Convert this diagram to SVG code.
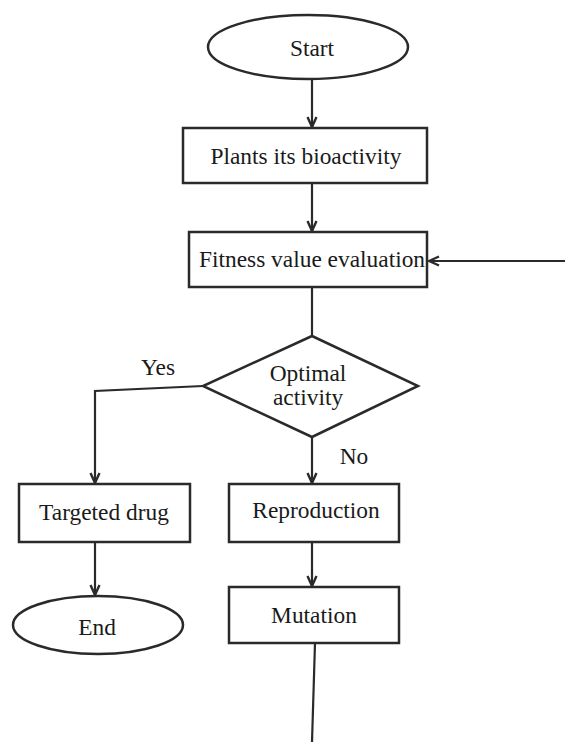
<svg xmlns="http://www.w3.org/2000/svg" width="565" height="742" viewBox="0 0 565 742">
<style>
.shape{fill:#fff;stroke:#2a2a2a;stroke-width:2.5}
.t{font-family:"Liberation Serif","Times New Roman",serif;font-size:23.4px;fill:#1a1a1a;text-anchor:middle}
.c{fill:none;stroke:#2a2a2a;stroke-width:2.2}
</style>
<defs>
<marker id="ah" viewBox="0 0 12 12" refX="11" refY="6" markerWidth="12" markerHeight="12" markerUnits="userSpaceOnUse" orient="auto">
<path d="M1,1.5 L11,6 L1,10.5" fill="none" stroke="#2a2a2a" stroke-width="2.4"/>
</marker>
</defs>
<rect width="565" height="742" fill="#fff"/>
<g id="connectors">
<line class="c" x1="312" y1="80" x2="312" y2="127" marker-end="url(#ah)"/>
<line class="c" x1="312" y1="183" x2="312" y2="231" marker-end="url(#ah)"/>
<line class="c" x1="312" y1="287" x2="312" y2="335"/>
<line class="c" x1="565" y1="261" x2="429" y2="261" stroke-width="3" marker-end="url(#ah)"/>
<polyline class="c" points="203,386 95,391 95,483" marker-end="url(#ah)"/>
<line class="c" x1="312" y1="437" x2="312" y2="483" marker-end="url(#ah)"/>
<line class="c" x1="95" y1="542" x2="95" y2="595" marker-end="url(#ah)"/>
<line class="c" x1="312" y1="542" x2="312" y2="586" marker-end="url(#ah)"/>
<line class="c" x1="315" y1="643" x2="312" y2="742"/>
<text class="t" x="158" y="375">Yes</text>
<text class="t" x="354" y="464">No</text>
</g>
<g id="start">
<ellipse class="shape" cx="308" cy="47" rx="100" ry="32"/>
<text class="t" x="312" y="56">Start</text>
</g>
<g id="plants">
<rect class="shape" x="183" y="128" width="244" height="55"/>
<text class="t" x="306" y="164">Plants its bioactivity</text>
</g>
<g id="fitness">
<rect class="shape" x="189" y="232" width="238" height="55"/>
<text class="t" x="312" y="267">Fitness value evaluation</text>
</g>
<g id="optimal">
<polygon class="shape" points="312,336 418,386 312,437 203,386"/>
<text class="t" x="308" y="381">Optimal</text>
<text class="t" x="308" y="405">activity</text>
</g>
<g id="targeted">
<rect class="shape" x="19" y="484" width="171" height="58"/>
<text class="t" x="104" y="520">Targeted drug</text>
</g>
<g id="reproduction">
<rect class="shape" x="229" y="484" width="170" height="58"/>
<text class="t" x="316" y="518">Reproduction</text>
</g>
<g id="end">
<ellipse class="shape" cx="98" cy="625" rx="85" ry="29"/>
<text class="t" x="97" y="635">End</text>
</g>
<g id="mutation">
<rect class="shape" x="229" y="587" width="170" height="56"/>
<text class="t" x="314" y="623">Mutation</text>
</g>
</svg>
